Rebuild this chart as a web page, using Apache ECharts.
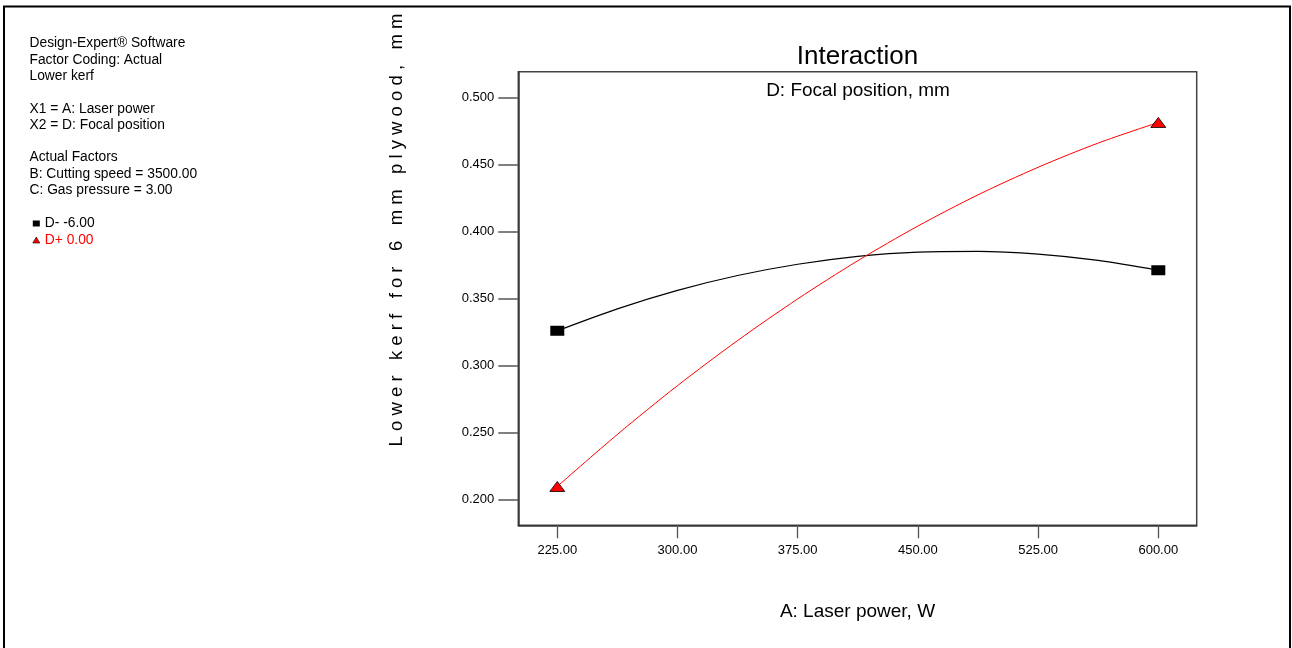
<!DOCTYPE html>
<html>
<head>
<meta charset="utf-8">
<script src="https://cdn.jsdelivr.net/npm/echarts@6/dist/echarts.min.js"></script>
<style>
html,body{margin:0;padding:0;background:#fff;}
#chart{width:1292px;height:648px;}
</style>
</head>
<body>
<div id="chart"></div>
<script>
// ---- data ----
const xValues = [225, 262.5, 300, 337.5, 375, 412.5, 450, 487.5, 525, 562.5, 600];
const dMinus  = [0.3259, 0.3423, 0.3561, 0.3672, 0.3756, 0.3815, 0.3847, 0.3852, 0.3832, 0.3785, 0.3711];
const dPlus   = [0.2096, 0.2485, 0.2849, 0.3186, 0.3497, 0.3782, 0.4041, 0.4274, 0.4480, 0.4661, 0.4815];
const xTicks = [225, 300, 375, 450, 525, 600];
const yTicks = [0.2, 0.25, 0.3, 0.35, 0.4, 0.45, 0.5];
const seriesNames = ['D- -6.00', 'D+ 0.00'];
const infoLines = [
  'Design-Expert\u00AE Software', 'Factor Coding: Actual', 'Lower kerf', '',
  'X1 = A: Laser power', 'X2 = D: Focal position', '',
  'Actual Factors', 'B: Cutting speed = 3500.00', 'C: Gas pressure = 3.00'
];
const chartTitle = 'Interaction';
const legendTitle = 'D: Focal position, mm';
const xTitle = 'A: Laser power, W';
const yTitle = 'Lower kerf for 6 mm plywood, mm';

const FONT = 'Arial, "Liberation Sans", sans-serif';
const pairs = (xs, ys) => xs.map((x, i) => [x, ys[i]]);
const ends = (xs, ys) => [[xs[0], ys[0]], [xs[xs.length - 1], ys[ys.length - 1]]];

const chart = echarts.init(document.getElementById('chart'));

const graphics = [
  { type: 'rect', shape: { x: 4, y: 6.5, width: 1286, height: 645 },
    style: { fill: 'none', stroke: '#000', lineWidth: 2 }, silent: true },
  { type: 'text', x: 857.5, y: 57, style: { text: chartTitle, fontSize: 26, fontFamily: FONT, fill: '#000', align: 'center', verticalAlign: 'middle' } },
  { type: 'text', x: 858, y: 91, style: { text: legendTitle, fontSize: 19, fontFamily: FONT, fill: '#000', align: 'center', verticalAlign: 'middle' } },
  { type: 'text', x: 857.5, y: 612, style: { text: xTitle, fontSize: 19, fontFamily: FONT, fill: '#000', align: 'center', verticalAlign: 'middle' } },
  { type: 'text', x: 397, y: 230, rotation: Math.PI / 2,
    style: { text: yTitle.split('').join(' '), fontSize: 18.5, fontFamily: FONT, fill: '#000', align: 'center', verticalAlign: 'middle' } }
];
infoLines.forEach((t, i) => {
  if (!t) return;
  graphics.push({ type: 'text', x: 29.5, y: 43.5 + i * 16.3,
    style: { text: t, fontSize: 13.8, fontFamily: FONT, fill: '#000', align: 'left', verticalAlign: 'middle' } });
});

chart.setOption({
  backgroundColor: '#fff',
  animation: false,
  grid: { left: 518.3, top: 71.7, width: 678.4, height: 453.6, show: true, borderColor: '#444', borderWidth: 1.5, backgroundColor: 'transparent' },
  legend: {
    orient: 'vertical', left: 32.5, top: 216.5, padding: 0, itemWidth: 7, itemHeight: 6, itemGap: 2.5,
    textStyle: { fontSize: 13.8, fontFamily: FONT },
    selectedMode: false,
    data: [
      { name: seriesNames[0], icon: 'rect', itemStyle: { color: '#000' }, textStyle: { color: '#000' } },
      { name: seriesNames[1], icon: 'triangle', itemStyle: { color: '#f00', borderColor: '#000', borderWidth: 0.6 }, textStyle: { color: '#f00' } }
    ]
  },
  xAxis: {
    type: 'value', min: 200.67, max: 623.96,
    axisLine: { show: true, onZero: false, lineStyle: { color: '#333', width: 1.5 } },
    axisTick: { show: true, length: 13, customValues: xTicks, lineStyle: { color: '#555', width: 1.3 } },
    axisLabel: { customValues: xTicks, margin: 19, fontSize: 13, fontFamily: FONT, color: '#000', formatter: v => v.toFixed(2) },
    splitLine: { show: false }
  },
  yAxis: {
    type: 'value', min: 0.1806, max: 0.5194,
    axisLine: { show: true, onZero: false, lineStyle: { color: '#333', width: 1.5 } },
    axisTick: { show: true, length: 20, customValues: yTicks, lineStyle: { color: '#555', width: 1.5 } },
    axisLabel: { customValues: yTicks, margin: 24, fontSize: 13, fontFamily: FONT, color: '#000', formatter: v => v.toFixed(3) },
    splitLine: { show: false }
  },
  series: [
    { name: seriesNames[0], type: 'line', data: pairs(xValues, dMinus), smooth: 0.3, symbol: 'none',
      lineStyle: { color: '#000', width: 1.2 }, itemStyle: { color: '#000' } },
    { name: seriesNames[1], type: 'line', data: pairs(xValues, dPlus), smooth: 0.3, symbol: 'none',
      lineStyle: { color: '#ff0000', width: 1 }, itemStyle: { color: '#ff0000' } },
    { name: seriesNames[0], type: 'scatter', data: ends(xValues, dMinus), symbol: 'rect', symbolSize: [14, 10],
      itemStyle: { color: '#000', opacity: 1 }, z: 5 },
    { name: seriesNames[1], type: 'scatter', data: ends(xValues, dPlus), symbol: 'triangle', symbolSize: [15, 10],
      itemStyle: { color: '#ff0000', borderColor: '#000', borderWidth: 0.8, opacity: 1 }, z: 5 }
  ],
  graphic: graphics
});
</script>
</body>
</html>
